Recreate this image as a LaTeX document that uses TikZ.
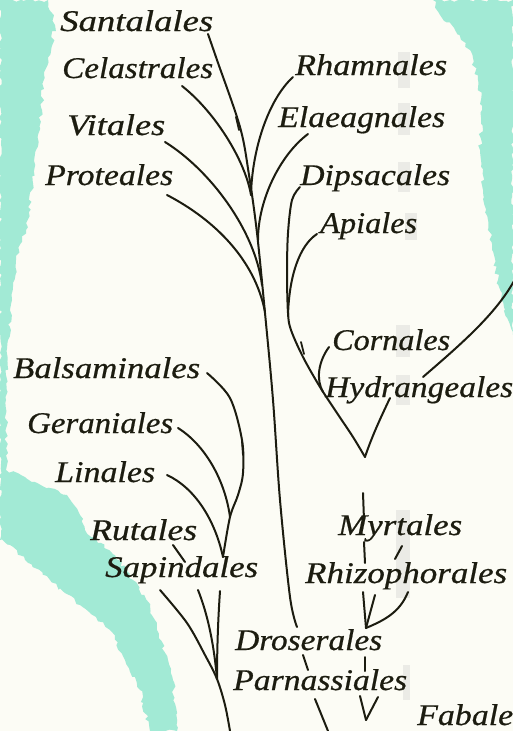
\documentclass[tikz,border=0pt]{standalone}
\usepackage{fontspec}
\setmainfont{Liberation Serif}[ItalicFeatures={FakeBold=0.6}]
\usepackage{graphicx}
\usetikzlibrary{decorations.pathmorphing}
\definecolor{mint}{RGB}{162,234,213}
\definecolor{paper}{RGB}{252,252,245}
\definecolor{ink}{RGB}{28,28,16}
\newcommand{\lb}[2]{\resizebox{#1pt}{\height}{#2}}
\begin{document}
\begin{tikzpicture}[x=1pt,y=-1pt,
  lab/.style={anchor=base west, inner sep=0pt, font=\fontsize{30}{30}\selectfont\itshape, text=ink},
  br/.style={draw=ink, line width=2pt, line cap=round, line join=round},
  barb/.style={draw=ink, line width=1.8pt, line cap=round},
  wash/.style={fill=mint, draw=none, decorate, decoration={random steps, segment length=4pt, amplitude=2pt}},
  fold/.style={fill=black!30, opacity=0.22, draw=none}]
\useasboundingbox (0,0) rectangle (513,731);
\fill[paper] (0,0) rectangle (513,731);
% watercolour washes
\fill[wash] (0,0) -- (48,0) -- (55,25) -- (50,55) -- (44,75) -- (42,110) -- (36,150) -- (32,190) -- (26,230) -- (16,260) -- (12,300) -- (8,340) -- (6,400) -- (6,470) -- (35,482) -- (67,495) -- (80,515) -- (85,530) -- (115,555) -- (133,580) -- (150,605) -- (157,630) -- (168,660) -- (173,680) -- (177,731) -- (150,731) -- (140,690) -- (125,660) -- (110,630) -- (80,605) -- (50,580) -- (25,560) -- (10,545) -- (0,540) -- cycle;
\fill[wash] (433,0) -- (513,0) -- (513,335) -- (505,310) -- (498,280) -- (492,250) -- (488,220) -- (483,190) -- (480,150) -- (482,110) -- (478,80) -- (470,50) -- (455,30) -- (440,15) -- cycle;
% page fold shading
\fill[fold] (398,52) rectangle (410,88);
\fill[fold] (398,103) rectangle (410,135);
\fill[fold] (398,162) rectangle (410,192);
\fill[fold] (405,213) rectangle (417,240);
\fill[fold] (396,325) rectangle (410,357);
\fill[fold] (396,375) rectangle (410,405);
\fill[fold] (396,510) rectangle (410,598);
\fill[fold] (403,665) rectangle (410,700);

% labels
\node[lab] (santalales) at (60,31) {\lb{153}{Santalales}};
\node[lab] (celastrales) at (62,78) {\lb{151}{Celastrales}};
\node[lab] (vitales) at (67,135) {\lb{98}{Vitales}};
\node[lab] (proteales) at (45,185) {\lb{128}{Proteales}};
\node[lab] (rhamnales) at (295,75) {\lb{152}{Rhamnales}};
\node[lab] (elaeagnales) at (278,127) {\lb{167}{Elaeagnales}};
\node[lab] (dipsacales) at (300,185) {\lb{150}{Dipsacales}};
\node[lab] (apiales) at (320,233) {\lb{97}{Apiales}};
\node[lab] (cornales) at (332,350) {\lb{118}{Cornales}};
\node[lab] (hydrangeales) at (325,397) {\lb{188}{Hydrangeales}};
\node[lab] (balsaminales) at (13,378) {\lb{187}{Balsaminales}};
\node[lab] (geraniales) at (27,433) {\lb{146}{Geraniales}};
\node[lab] (linales) at (55,482) {\lb{100}{Linales}};
\node[lab] (rutales) at (90,540) {\lb{107}{Rutales}};
\node[lab] (sapindales) at (105,577) {\lb{153}{Sapindales}};
\node[lab] (myrtales) at (338,535) {\lb{124}{Myrtales}};
\node[lab] (rhizophorales) at (305,583) {\lb{202}{Rhizophorales}};
\node[lab] (droserales) at (235,650) {\lb{147}{Droserales}};
\node[lab] (parnassiales) at (233,690) {\lb{174}{Parnassiales}};
\node[lab] (fabales) at (417,725) {\lb{96}{Fabale}};

% branch end points and junctions
\coordinate (sanE) at (208,34);
\coordinate (celE) at (182,86);
\coordinate (rhaE) at (293,77);
\coordinate (elaE) at (308,134);
\coordinate (vitE) at (165,142);
\coordinate (proE) at (167,195);
\coordinate (jA) at (251,195);
\coordinate (jB) at (258,240);
\coordinate (jC) at (262,285);
\coordinate (jD) at (265,312);
\coordinate (tA) at (297,627);
\coordinate (dipE) at (300,187);
\coordinate (apiE) at (317,234);
\coordinate (jE) at (288,316);
\coordinate (corE) at (329,347);
\coordinate (jF) at (323,392);
\coordinate (vB) at (365,457);
\coordinate (farR) at (514,281);
\coordinate (hydA) at (423,377);
\coordinate (hydB) at (390,398);
\coordinate (myA) at (363,493);
\coordinate (myB) at (364,520);
\coordinate (myC) at (364,542);
\coordinate (myD) at (365,563);
\coordinate (myS1) at (402,546);
\coordinate (myS2) at (395,559);
\coordinate (rzA) at (363,592);
\coordinate (rzB) at (375,595);
\coordinate (rzC) at (408,592);
\coordinate (jG) at (366,628);
\coordinate (drA) at (365,657);
\coordinate (drB) at (365,671);
\coordinate (paA) at (360,696);
\coordinate (paB) at (378,697);
\coordinate (jK) at (366,720);
\coordinate (balE) at (207,373);
\coordinate (gerE) at (178,428);
\coordinate (linE) at (167,475);
\coordinate (jH) at (230,517);
\coordinate (jI) at (223,557);
\coordinate (rutA) at (173,545);
\coordinate (rutB) at (185,562);
\coordinate (sapL) at (160,590);
\coordinate (sapM) at (198,590);
\coordinate (sapR) at (220,591);
\coordinate (jJ) at (217,679);
\coordinate (botL) at (230,731);
\coordinate (tB) at (303,655);
\coordinate (tC) at (308,670);
\coordinate (tD) at (315,699);
\coordinate (botT) at (328,731);

% main trunk
\draw[br] plot[smooth, tension=0.55] coordinates {(sanE) (217,60) (240,127) (249,175) (257,233) (265,313) (273,400) (280,500) (290,597) (tA)};
\draw[br] (tB) -- (tC);
\draw[br] (tD) -- (botT);
\draw[barb] (236,117) -- (239,130);
% upper branches
\draw[br] (celE) .. controls (215,112) and (245,160) .. (jA);
\draw[br] (rhaE) .. controls (268,100) and (252,150) .. (jA);
\draw[br] (elaE) .. controls (280,155) and (258,200) .. (jB);
\draw[br] (vitE) .. controls (210,170) and (255,230) .. (jC);
\draw[br] (proE) .. controls (215,220) and (255,260) .. (jD);
% right clade
\draw[br] plot[smooth, tension=0.55] coordinates {(dipE) (292,200) (288,233) (287,273) (288,313) (291,330) (303,357) (320,387) (337,413) (353,437) (vB)};
\draw[br] (apiE) .. controls (300,245) and (289,275) .. (jE);
\draw[br] (corE) .. controls (318,362) and (316,380) .. (jF);
\draw[barb] (301,342) -- (304,354);
\draw[br] (farR) .. controls (495,315) and (460,345) .. (hydA);
\draw[br] (hydB) .. controls (381,417) and (372,436) .. (vB);
% Myrtales group
\draw[br] (myA) -- (myB);
\draw[br] (myC) -- (myD);
\draw[br] (myS1) -- (myS2);
\draw[br] (rzA) -- (jG);
\draw[br] (rzB) -- (jG);
\draw[br] (rzC) .. controls (400,612) and (385,620) .. (jG);
\draw[br] (drA) -- (drB);
\draw[br] (paA) -- (jK);
\draw[br] (paB) -- (jK);
% Sapindales group
\draw[br] plot[smooth, tension=0.55] coordinates {(balE) (230,398) (242,440) (243,473) (238,495) (jH) (jI)};
\draw[barb] (242,441) -- (243,455);
\draw[br] (gerE) .. controls (205,445) and (225,480) .. (jH);
\draw[br] (linE) .. controls (195,488) and (215,520) .. (jI);
\draw[br] (rutA) -- (rutB);
\draw[br] plot[smooth, tension=0.55] coordinates {(sapL) (187,623) (205,655) (jJ) (225,705) (botL)};
\draw[br] (sapM) .. controls (208,615) and (214,645) .. (jJ);
\draw[br] (sapR) .. controls (218,620) and (217,650) .. (jJ);
\end{tikzpicture}
\end{document}
